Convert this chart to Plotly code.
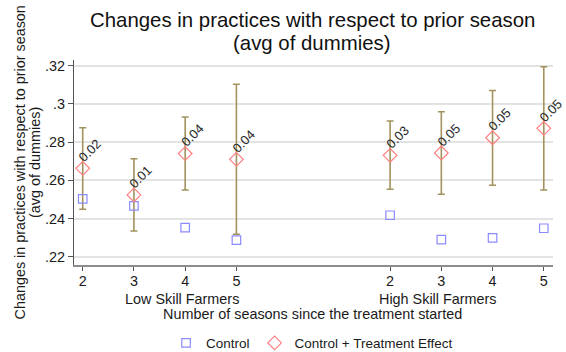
import plotly.graph_objects as go

# Seasons since treatment started, for each farmer group
seasons = [2, 3, 4, 5]
groups = ["Low Skill Farmers", "High Skill Farmers"]

# Control means
control_low = [0.2503, 0.2467, 0.2353, 0.2288]
control_high = [0.2418, 0.2291, 0.2300, 0.2350]

# Control + treatment effect, with confidence interval bounds
effect_low = [0.2663, 0.2524, 0.2740, 0.2710]
effect_high = [0.2731, 0.2743, 0.2823, 0.2872]
ci_hi_low = [0.2875, 0.2713, 0.2931, 0.3102]
ci_lo_low = [0.2449, 0.2336, 0.2550, 0.2319]
ci_hi_high = [0.2910, 0.2959, 0.3070, 0.3194]
ci_lo_high = [0.2554, 0.2528, 0.2575, 0.2550]

y_ticks = [0.22, 0.24, 0.26, 0.28, 0.30, 0.32]
y_ticktext = [".22", ".24", ".26", ".28", ".3", ".32"]

# x positions: two blocks of four seasons separated by a gap
x_low = [1, 2, 3, 4]
x_high = [7, 8, 9, 10]
xs = x_low + x_high
control = control_low + control_high
effect = effect_low + effect_high
ci_hi = ci_hi_low + ci_hi_high
ci_lo = ci_lo_low + ci_lo_high

FONT = "Liberation Sans, Arial, sans-serif"
TXT = "#1a1a1a"
BLUE = "#8a8aff"
RED = "#ff8080"
OLIVE = "#a3925e"
AX = 14.4  # axis text size

fig = go.Figure()

# confidence interval caps
fig.add_trace(go.Scatter(
    x=xs, y=effect, mode="markers",
    marker=dict(size=1, color="rgba(0,0,0,0)"),
    error_y=dict(type="data", symmetric=False,
                 array=[h - e for h, e in zip(ci_hi, effect)],
                 arrayminus=[e - l for e, l in zip(effect, ci_lo)],
                 color=OLIVE, thickness=1.6, width=3.5),
    showlegend=False, hoverinfo="skip",
))

fig.add_trace(go.Scatter(
    x=xs, y=control, mode="markers", name="Control",
    marker=dict(symbol="square-open", size=8.5, color=BLUE, line=dict(width=1.2)),
))
fig.add_trace(go.Scatter(
    x=xs, y=effect, mode="markers", name="Control + Treatment Effect",
    marker=dict(symbol="diamond-open", size=10.5, color=RED, line=dict(width=1.2)),
))

annotations = []
# treatment effect labels next to each diamond
for x, e, c in zip(xs, effect, control):
    annotations.append(dict(
        x=x, y=e, xref="x", yref="y", text=f"{e - c:.2f}",
        textangle=-45, showarrow=False, xanchor="center", yanchor="middle",
        xshift=7, yshift=18, font=dict(family=FONT, size=13, color="#2a2a2a"),
    ))

# group labels under the tick numbers
for gx, g in zip([2.94, 7.94], groups):
    annotations.append(dict(
        x=gx, y=-0.166, xref="x", yref="paper", text=g, showarrow=False,
        xanchor="center", yanchor="middle",
        font=dict(family=FONT, size=AX, color=TXT),
    ))

annotations.append(dict(
    x=0.497, y=-0.239, xref="paper", yref="paper",
    text="Number of seasons since the treatment started", showarrow=False,
    xanchor="center", yanchor="middle",
    font=dict(family=FONT, size=AX, color=TXT),
))

# two-line y-axis title
for xp, line in zip([-0.1148, -0.0825],
                    ["Changes in practices with respect to prior season",
                     "(avg of dummies)"]):
    annotations.append(dict(
        x=xp, y=0.5, xref="paper", yref="paper", text=line,
        textangle=-90, showarrow=False, xanchor="center", yanchor="middle",
        font=dict(family=FONT, size=AX, color=TXT),
    ))

# second title line
annotations.append(dict(
    x=0.497, y=1.083, xref="paper", yref="paper", text="(avg of dummies)",
    showarrow=False, xanchor="center", yanchor="middle",
    font=dict(family=FONT, size=20.4, color="#111111"),
))

fig.update_layout(
    width=566, height=352,
    margin=dict(l=74, r=13, t=60, b=87, autoexpand=False),
    paper_bgcolor="white", plot_bgcolor="white",
    font=dict(family=FONT, size=AX, color=TXT),
    title=dict(
        text="Changes in practices with respect to prior season",
        x=0.5525, xanchor="center", y=0.9446, yanchor="middle",
        font=dict(family=FONT, size=20.4, color="#111111"),
    ),
    xaxis=dict(
        range=[0.83, 10.18], tickvals=xs,
        ticktext=[str(s) for s in seasons] * 2,
        showgrid=False, zeroline=False,
        showline=True, linecolor="#8c8c8c", linewidth=1.5,
        ticks="outside", ticklen=4, tickcolor="#555555",
        ticklabelstandoff=-2,
        tickfont=dict(family=FONT, size=AX, color=TXT),
    ),
    yaxis=dict(
        range=[0.2158, 0.3229], tickvals=y_ticks, ticktext=y_ticktext,
        showgrid=True, gridcolor="#e3e3e3", gridwidth=1.5, zeroline=False,
        showline=True, linecolor="#555555", linewidth=1,
        ticks="outside", ticklen=5, tickcolor="#555555",
        tickfont=dict(family=FONT, size=AX, color=TXT),
    ),
    legend=dict(
        orientation="h", x=0.497, xanchor="center", y=-0.381, yanchor="middle",
        font=dict(family=FONT, size=13.5, color=TXT),
        itemwidth=30, tracegroupgap=0,
    ),
    annotations=annotations,
    showlegend=True,
)

fig.write_html("out.html")
